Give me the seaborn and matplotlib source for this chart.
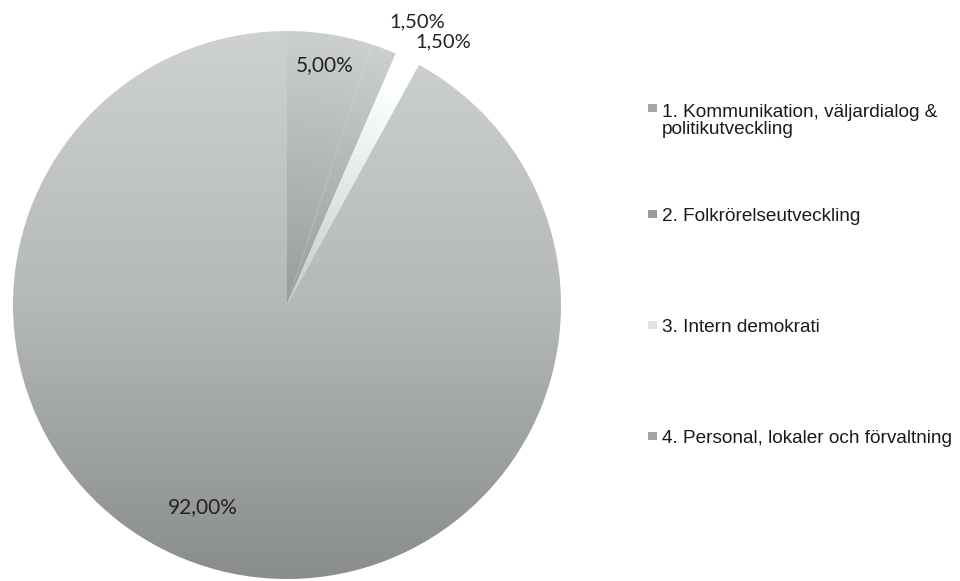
import seaborn as sns
import matplotlib.pyplot as plt
from matplotlib.patches import Rectangle
import numpy as np

# Data
categories = [
    "1. Kommunikation, väljardialog &\npolitikutveckling",
    "2. Folkrörelseutveckling",
    "3. Intern demokrati",
    "4. Personal, lokaler och förvaltning",
]
shares = [5.00, 1.50, 1.50, 92.00]
pct_labels = ["5,00%", "1,50%", "1,50%", "92,00%"]

sns.set_theme(style="white")
plt.rcParams["font.family"] = ["Liberation Sans", "DejaVu Sans"]

W, H = 960, 581
fig = plt.figure(figsize=(W / 100, H / 100), dpi=100)
fig.patch.set_facecolor("white")

# pie placement in pixels
cx, cy, R = 287, 305, 274
ax = fig.add_axes([(cx - R) / W, (H - cy - R) / H, 2 * R / W, 2 * R / H])

wedges, _ = ax.pie(shares, startangle=90, counterclock=False, radius=1,
                   colors=["none"] * 4, wedgeprops=dict(linewidth=0))

# gradient fills, clipped to each wedge
n = 500
xx, yy = np.meshgrid(np.linspace(-1, 1, n), np.linspace(1, -1, n))
rr = np.sqrt(xx ** 2 + yy ** 2)


def gray_img(g):
    g = np.clip(g, 0, 1)
    return np.dstack([g, g + 0.01, g + 0.015]).clip(0, 1)


fills = [
    gray_img(0.60 + 0.20 * rr),
    gray_img(0.60 + 0.20 * rr),
    gray_img(0.78 + 0.24 * rr),
    gray_img(np.interp(yy, [-1, 0, 1], [0.54, 0.71, 0.81])),
]
for w, img in zip(wedges, fills):
    im = ax.imshow(img, extent=(-1, 1, -1, 1), interpolation="bilinear", zorder=1)
    im.set_clip_path(w)

ax.set_xlim(-1, 1)
ax.set_ylim(-1, 1)
ax.set_aspect("equal")
ax.axis("off")

# percentage labels: (radius, angle shift in degrees, size) per slice
label_pos = [(0.885, 0.0, 15), (1.136, -4.0, 14.5), (1.118, -4.6, 14.5), (0.797, -8.2, 15)]
for w, txt, (r, d, fs) in zip(wedges, pct_labels, label_pos):
    ang = np.deg2rad((w.theta1 + w.theta2) / 2 + d)
    ax.text(r * np.cos(ang), r * np.sin(ang), txt, ha="center", va="center",
            fontsize=fs, family=["Lato", "DejaVu Sans"], color="#222222",
            zorder=3, clip_on=False)

# legend drawn at the right (baseline of first line, in px)
legend_base = [115, 221, 332, 443]
marker_cols = ["#a6a8a8", "#999b9b", "#e2e2e2", "#a2a4a4"]
line_px = 19
for lab, yb, mc in zip(categories, legend_base, marker_cols):
    last = yb + line_px * lab.count("\n")
    fig.text(662 / W, 1 - last / H, lab, ha="left", va="baseline",
             fontsize=13.7, color="#1a1a1a", linespacing=1.0)
    fig.patches.append(Rectangle((648 / W, 1 - (yb - 3) / H), 9 / W, 8 / H,
                                 transform=fig.transFigure, facecolor=mc,
                                 edgecolor="none"))

fig.savefig("out.png", dpi=100, facecolor="white")
